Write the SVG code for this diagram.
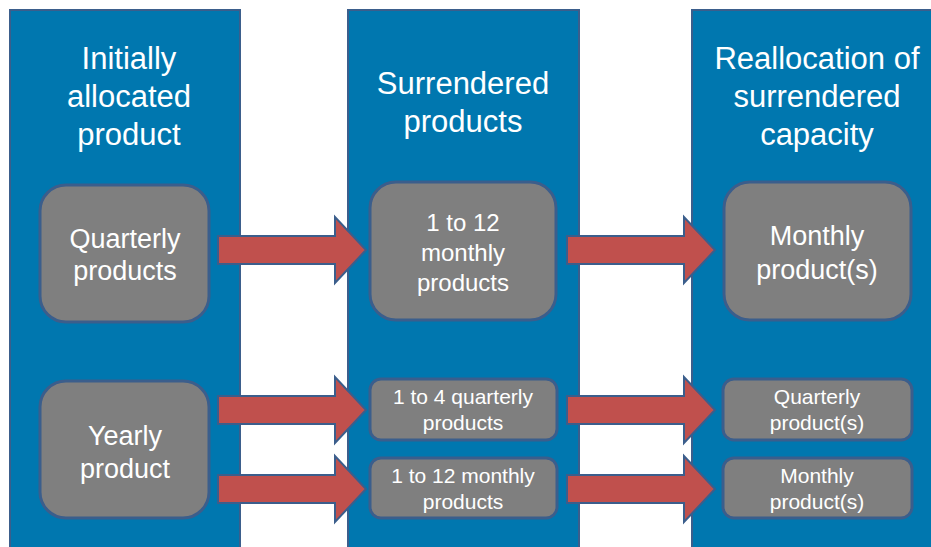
<svg xmlns="http://www.w3.org/2000/svg" width="931" height="547" viewBox="0 0 931 547">
<style>
.col{fill:#0077AF;stroke:#3B5E8C;stroke-width:2}
.node{fill:#7F7F7F;stroke:#3B5E8C;stroke-width:3}
.arr{fill:#C0504D;stroke:#3B5E8C;stroke-width:2}
text{font-family:"Liberation Sans",Arial,sans-serif;fill:#FFFFFF;text-anchor:middle}
.h{font-size:31px}
.t{font-size:27px}
.m{font-size:24px}
.s{font-size:21px}
</style>
<rect width="931" height="547" fill="#FFFFFF"/>
<g id="col1"><rect class="col" x="10" y="10" width="230" height="545"/>
<text class="h" x="129" y="69">Initially</text><text class="h" x="129" y="107">allocated</text><text class="h" x="129" y="145">product</text></g>
<g id="col2"><rect class="col" x="348" y="10" width="231" height="545"/>
<text class="h" x="463" y="94">Surrendered</text><text class="h" x="463" y="132">products</text></g>
<g id="col3"><rect class="col" x="692" y="10" width="250" height="545"/>
<text class="h" x="817" y="69">Reallocation of</text><text class="h" x="817" y="107">surrendered</text><text class="h" x="817" y="145">capacity</text></g>
<g id="connectors">
<polygon class="arr" points="218,236 335,236 335,217 366,250 335,283 335,264 218,264"/>
<polygon class="arr" points="567,236 684,236 684,217 715,250 684,283 684,264 567,264"/>
<polygon class="arr" points="218,396 335,396 335,377 366,410 335,443 335,424 218,424"/>
<polygon class="arr" points="567,396 684,396 684,377 715,410 684,443 684,424 567,424"/>
<polygon class="arr" points="218,475 335,475 335,456 366,489 335,522 335,503 218,503"/>
<polygon class="arr" points="567,475 684,475 684,456 715,489 684,522 684,503 567,503"/>
</g>
<g id="n1"><rect class="node" x="40" y="185" width="169" height="137" rx="26"/>
<text class="t" x="125" y="248">Quarterly</text><text class="t" x="125" y="280">products</text></g>
<g id="n2"><rect class="node" x="40" y="381" width="169" height="137" rx="26"/>
<text class="t" x="125" y="445">Yearly</text><text class="t" x="125" y="478">product</text></g>
<g id="n3"><rect class="node" x="370" y="182" width="186" height="138" rx="26"/>
<text class="m" x="463" y="231">1 to 12</text><text class="m" x="463" y="261">monthly</text><text class="m" x="463" y="291">products</text></g>
<g id="n4"><rect class="node" x="370" y="379" width="187" height="61" rx="11"/>
<text class="s" x="463" y="404">1 to 4 quarterly</text><text class="s" x="463" y="430">products</text></g>
<g id="n5"><rect class="node" x="370" y="458" width="187" height="60" rx="11"/>
<text class="s" x="463" y="483">1 to 12 monthly</text><text class="s" x="463" y="509">products</text></g>
<g id="n6"><rect class="node" x="724" y="182" width="187" height="138" rx="26"/>
<text class="t" x="817" y="245">Monthly</text><text class="t" x="817" y="279">product(s)</text></g>
<g id="n7"><rect class="node" x="723" y="379" width="189" height="61" rx="11"/>
<text class="s" x="817" y="404">Quarterly</text><text class="s" x="817" y="430">product(s)</text></g>
<g id="n8"><rect class="node" x="723" y="458" width="189" height="60" rx="11"/>
<text class="s" x="817" y="483">Monthly</text><text class="s" x="817" y="509">product(s)</text></g>
</svg>
